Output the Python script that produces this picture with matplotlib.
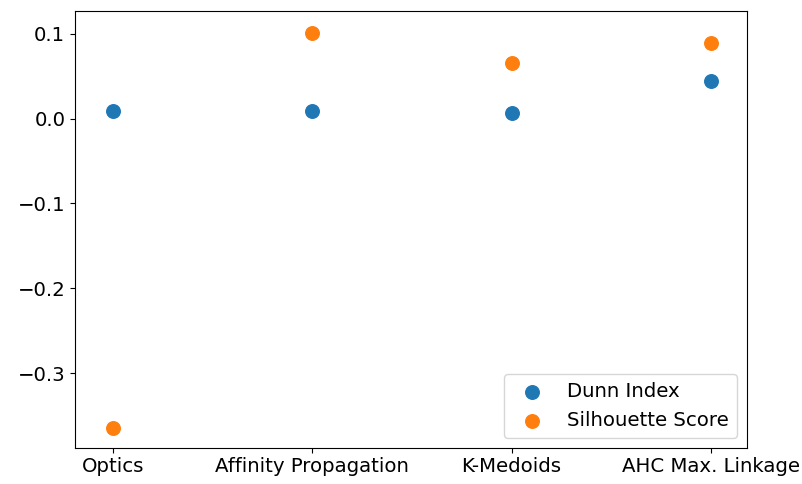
import matplotlib
matplotlib.use('Agg')
import matplotlib.pyplot as plt

methods = ['Optics', 'Affinity Propagation', 'K-Medoids', 'AHC Max. Linkage']
dunn_index = [0.0088, 0.0088, 0.0061, 0.0442]
silhouette_score = [-0.364, 0.1007, 0.0657, 0.0893]

plt.rcParams['font.size'] = 14.2

fig = plt.figure(figsize=(8.03, 4.84), dpi=100)
ax = fig.add_axes([0.0934, 0.075, 0.8366, 0.902])

ax.scatter(methods, dunn_index, s=95, label='Dunn Index')
ax.scatter(methods, silhouette_score, s=95, label='Silhouette Score')
ax.set_xlim(-0.19, 3.18)
ax.set_ylim(-0.3877, 0.1266)
ax.set_yticks([0.1, 0.0, -0.1, -0.2, -0.3])
ax.legend(loc='lower right')

fig.savefig('out.png', dpi=100)
